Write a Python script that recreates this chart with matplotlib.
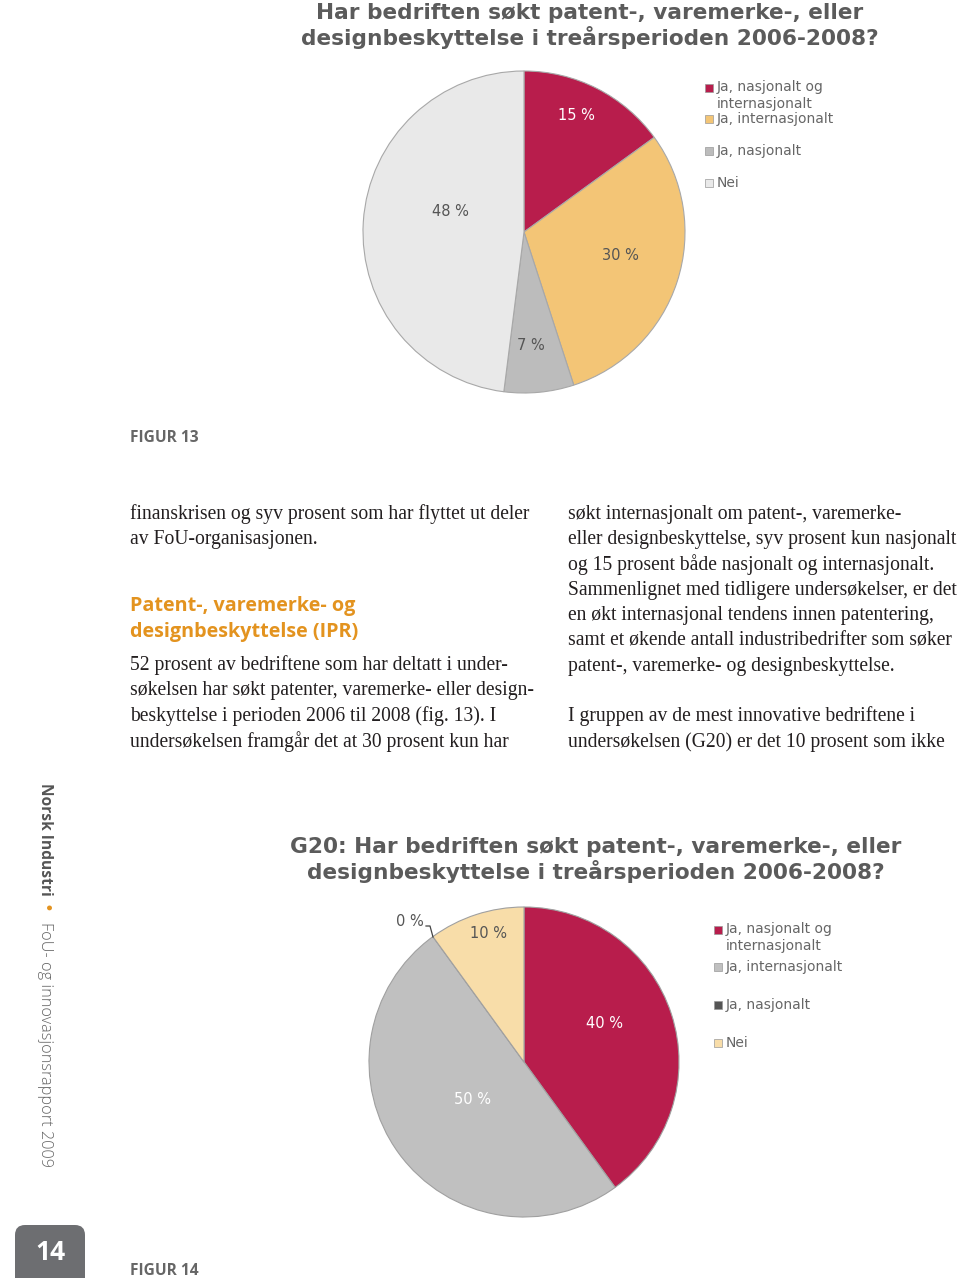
import matplotlib
matplotlib.use("Agg")
import matplotlib.pyplot as plt
from matplotlib.patches import Rectangle, FancyBboxPatch

# ---------------- data ----------------
categories = ["Ja, nasjonalt og\ninternasjonalt", "Ja, internasjonalt", "Ja, nasjonalt", "Nei"]
values_fig13 = [15, 30, 7, 48]
values_fig14 = [40, 50, 0, 10]
colors_fig13 = ["#b81d4c", "#f3c576", "#bcbcbc", "#e9e9e9"]
colors_fig14 = ["#b81d4c", "#c0c0c0", "#555555", "#f8dda9"]
title_fig13 = "Har bedriften søkt patent-, varemerke-, eller\ndesignbeskyttelse i treårsperioden 2006-2008?"
title_fig14 = "G20: Har bedriften søkt patent-, varemerke-, eller\ndesignbeskyttelse i treårsperioden 2006-2008?"

left_col = [
    "finanskrisen og syv prosent som har flyttet ut deler",
    "av FoU-organisasjonen.",
]
heading = ["Patent-, varemerke- og", "designbeskyttelse (IPR)"]
left_col2 = [
    "52 prosent av bedriftene som har deltatt i under-",
    "søkelsen har søkt patenter, varemerke- eller design-",
    "beskyttelse i perioden 2006 til 2008 (fig. 13). I",
    "undersøkelsen framgår det at 30 prosent kun har",
]
right_col = [
    "søkt internasjonalt om patent-, varemerke-",
    "eller designbeskyttelse, syv prosent kun nasjonalt",
    "og 15 prosent både nasjonalt og internasjonalt.",
    "Sammenlignet med tidligere undersøkelser, er det",
    "en økt internasjonal tendens innen patentering,",
    "samt et økende antall industribedrifter som søker",
    "patent-, varemerke- og designbeskyttelse.",
]
right_col2 = [
    "I gruppen av de mest innovative bedriftene i",
    "undersøkelsen (G20) er det 10 prosent som ikke",
]

# ---------------- figure ----------------
W, H = 960, 1278
fig = plt.figure(figsize=(W / 100, H / 100), dpi=100)
ax = fig.add_axes([0, 0, 1, 1])


def Y(y):
    return H - y


GRAY_T = "#5b5b5b"
LEG_T = "#666666"
BODY = "#231f20"
ORANGE = "#e3931f"
SANS = "DejaVu Sans"

# ---- pie 1 ----
ax.pie(values_fig13, colors=colors_fig13, startangle=90, counterclock=False,
       center=(524, Y(232)), radius=161, frame=True,
       wedgeprops=dict(edgecolor="#a8a8a8", linewidth=0.8))
lab1_pos = [(576, 116), (620, 256), (531, 345), (450, 211)]
lab1_col = ["white", "#555555", "#555555", "#555555"]
for v, (x, y), c in zip(values_fig13, lab1_pos, lab1_col):
    ax.text(x, Y(y), f"{v} %", ha="center", va="center", fontsize=10.5,
            color=c, family=SANS)

# ---- pie 2 ----
ax.pie(values_fig14, colors=colors_fig14, startangle=90, counterclock=False,
       center=(524, Y(1062)), radius=155, frame=True,
       wedgeprops=dict(edgecolor="#a0a0a0", linewidth=0.8))
lab2_pos = [(605, 1023), (472, 1100), (410, 922), (489, 933)]
lab2_col = ["white", "white", "#555555", "#555555"]
for v, (x, y), c in zip(values_fig14, lab2_pos, lab2_col):
    ax.text(x, Y(y), f"{v} %", ha="center", va="center", fontsize=10.5,
            color=c, family=SANS)
ax.plot([426, 430, 433], [Y(926), Y(926), Y(937)], color="#444444", lw=0.9)

ax.set_xlim(0, W)
ax.set_ylim(0, H)
ax.set_aspect("equal")
ax.axis("off")

# ---- titles ----
ax.text(590, Y(26), title_fig13, ha="center", va="center", fontsize=15.6,
        fontweight="bold", color=GRAY_T, family=SANS, linespacing=1.17)
ax.text(596, Y(860), title_fig14, ha="center", va="center", fontsize=15.6,
        fontweight="bold", color=GRAY_T, family=SANS, linespacing=1.17)

# ---- legends ----
def legend(xsq, xtxt, ys, cols):
    for y, lab, c in zip(ys, categories, cols):
        ax.add_patch(Rectangle((xsq, Y(y) - 4), 8, 8, facecolor=c,
                               edgecolor="#999999", lw=0.5))
        if "\n" in lab:
            ax.text(xtxt, Y(y) + 8, lab, ha="left", va="top", fontsize=10,
                    color=LEG_T, family=SANS, linespacing=1.3)
        else:
            ax.text(xtxt, Y(y), lab, ha="left", va="center", fontsize=10,
                    color=LEG_T, family=SANS)

legend(705, 717, [88, 119, 151, 183], colors_fig13)
legend(714, 726, [930, 967, 1005, 1043], colors_fig14)

# ---- figure captions ----
ax.text(130, Y(438), "FIGUR 13", ha="left", va="center", fontsize=11.2,
        fontweight="bold", color="#666666", family="Open Sans")
ax.text(130, Y(1271), "FIGUR 14", ha="left", va="center", fontsize=11.2,
        fontweight="bold", color="#666666", family="Open Sans")

# ---- body text ----
def lines(x, ys, texts, **kw):
    for y, s in zip(ys, texts):
        ax.text(x, Y(y), s, ha="left", va="baseline", **kw)

body_kw = dict(fontsize=14.1, color=BODY, family="Liberation Serif")
lines(130, [519, 544], left_col, **body_kw)
lines(130, [611, 637], heading, fontsize=14.2, fontweight="bold",
      color=ORANGE, family="Open Sans")
lines(130, [670, 695, 721, 747], left_col2, **body_kw)
lines(568, [519, 544, 570, 595, 620, 645, 671], right_col, **body_kw)
lines(568, [721, 747], right_col2, **body_kw)

# ---- side bar ----
ax.text(45, Y(783), "Norsk Industri", rotation=-90, ha="center", va="top",
        fontsize=11.2, fontweight="bold", color="#555555", family="Open Sans")
ax.text(45, Y(909), "\u2022", rotation=-90, ha="center", va="center",
        fontsize=12, color=ORANGE, family="DejaVu Sans")
ax.text(45, Y(922), "FoU- og innovasjonsrapport 2009", rotation=-90,
        ha="center", va="top", fontsize=11.7, color="#666666",
        family="Open Sans", fontweight="light")

# ---- page number ----
ax.add_patch(FancyBboxPatch((15, Y(1290)), 70, 65,
                            boxstyle="round,pad=0,rounding_size=10",
                            facecolor="#6d6e71", edgecolor="none"))
ax.text(50, Y(1252), "14", ha="center", va="center", fontsize=19,
        fontweight="bold", color="white", family="Open Sans")

fig.savefig("out.png", dpi=100)
